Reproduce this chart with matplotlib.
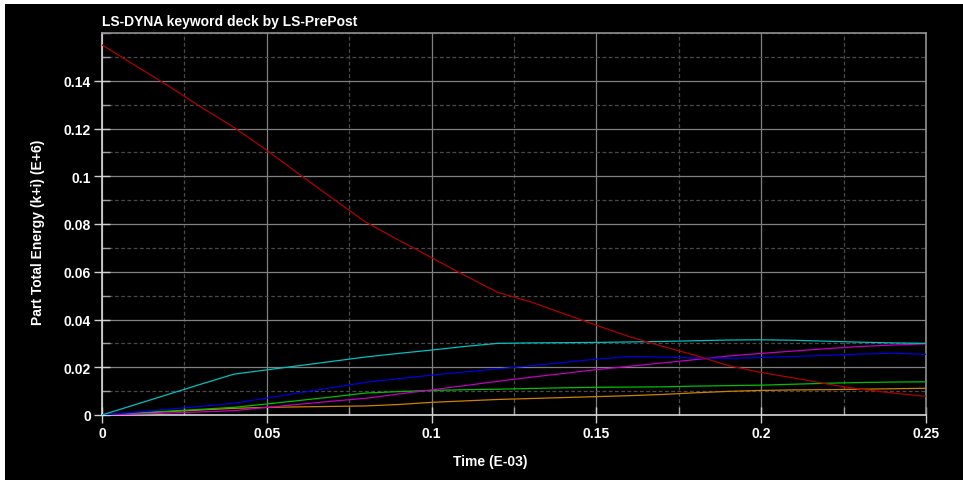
import matplotlib
matplotlib.use("Agg")
import matplotlib.pyplot as plt
from matplotlib.patches import Rectangle
from matplotlib.ticker import MultipleLocator

plt.rcParams['font.family'] = ['Liberation Sans', 'DejaVu Sans']

# Time samples (E-03)
time = [0.00, 0.01, 0.02, 0.03, 0.04, 0.05, 0.06, 0.07, 0.08, 0.09,
        0.10, 0.11, 0.12, 0.13, 0.14, 0.15, 0.16, 0.17, 0.18, 0.19,
        0.20, 0.21, 0.22, 0.23, 0.24, 0.25]

# Part total energy (k+i), E+6
part_red = [0.1550, 0.1465, 0.1380, 0.1290, 0.1205, 0.1109, 0.1007, 0.0907,
            0.0808, 0.0733, 0.0659, 0.0585, 0.0514, 0.0474, 0.0425, 0.0376,
            0.0328, 0.0288, 0.0250, 0.0207, 0.0178, 0.0155, 0.0130, 0.0108,
            0.0092, 0.0078]
part_cyan = [0.0, 0.0043, 0.0086, 0.0129, 0.0171, 0.0189, 0.0207, 0.0225,
             0.0243, 0.0258, 0.0272, 0.0287, 0.0300, 0.0302, 0.0303, 0.0304,
             0.0306, 0.0308, 0.0311, 0.0314, 0.0315, 0.0313, 0.0309, 0.0305,
             0.0302, 0.0300]
part_blue = [0.0, 0.0012, 0.0024, 0.0036, 0.0049, 0.0071, 0.0093, 0.0115,
             0.0137, 0.0152, 0.0167, 0.0180, 0.0193, 0.0206, 0.0220, 0.0234,
             0.0245, 0.0243, 0.0239, 0.0237, 0.0241, 0.0245, 0.0250, 0.0255,
             0.0259, 0.0254]
part_magenta = [0.0, 0.0004, 0.0008, 0.0013, 0.0018, 0.0032, 0.0045, 0.0058,
                0.0070, 0.0088, 0.0105, 0.0123, 0.0141, 0.0158, 0.0174, 0.0190,
                0.0204, 0.0218, 0.0232, 0.0247, 0.0258, 0.0268, 0.0278, 0.0287,
                0.0293, 0.0298]
part_green = [0.0, 0.0008, 0.0016, 0.0024, 0.0032, 0.0046, 0.0061, 0.0076,
              0.0092, 0.0098, 0.0103, 0.0106, 0.0108, 0.0111, 0.0114, 0.0116,
              0.0117, 0.0118, 0.0121, 0.0123, 0.0125, 0.0129, 0.0133, 0.0136,
              0.0138, 0.0139]
part_orange = [0.0, 0.0007, 0.0014, 0.0021, 0.0028, 0.0032, 0.0034, 0.0036,
               0.0038, 0.0044, 0.0053, 0.0059, 0.0065, 0.0069, 0.0073, 0.0077,
               0.0081, 0.0086, 0.0093, 0.0099, 0.0103, 0.0105, 0.0106, 0.0108,
               0.0110, 0.0112]

series = [
    (part_orange, '#d08000'),
    (part_green, '#00c000'),
    (part_magenta, '#c000c0'),
    (part_blue, '#0000e0'),
    (part_cyan, '#00c0c0'),
    (part_red, '#b00000'),
]

W, H = 963, 481
fig = plt.figure(figsize=(W / 100, H / 100), dpi=100, facecolor='white')
# black canvas behind everything
fig.patches.append(Rectangle((5 / W, 0), 1 - 5 / W, 1 - 5 / H,
                             transform=fig.transFigure, facecolor='black',
                             edgecolor='none', zorder=-10))

left, right, top, bottom = 102, 926, 34, 416
ax = fig.add_axes([left / W, (H - bottom) / H, (right - left) / W, (bottom - top) / H])
ax.set_facecolor('black')
ax.set_zorder(1)

for vals, col in series:
    ax.plot(time, vals, color=col, lw=0.9, zorder=3)

ax.set_xlim(0, 0.25)
ax.set_ylim(0, 0.16)
ax.xaxis.set_minor_locator(MultipleLocator(0.025))
ax.yaxis.set_minor_locator(MultipleLocator(0.01))

ax.set_xticks([0, 0.05, 0.1, 0.15, 0.2, 0.25])
ax.set_xticklabels(['0', '0.05', '0.1', '0.15', '0.2', '0.25'])
ax.set_yticks([0, 0.02, 0.04, 0.06, 0.08, 0.1, 0.12, 0.14])
ax.set_yticklabels(['0', '0.02', '0.04', '0.06', '0.08', '0.1', '0.12', '0.14'])

ax.set_axisbelow(True)
ax.grid(True, which='major', color='#808080', lw=0.9, ls='-')
ax.grid(True, which='minor', color='#4a4a4a', lw=0.9, ls=(0, (3, 2)))

ax.tick_params(which='major', direction='inout', length=12, width=1,
               color='#d0d0d0', labelcolor='white', labelsize=10, pad=2)
ax.tick_params(which='minor', direction='in', length=6, width=1, color='#a0a0a0')
for lab in ax.get_xticklabels() + ax.get_yticklabels():
    lab.set_fontweight('bold')

for side in ['left', 'bottom']:
    ax.spines[side].set_color('#d8d8d8')
    ax.spines[side].set_linewidth(1.2)
for side in ['top', 'right']:
    ax.spines[side].set_color('#909090')
    ax.spines[side].set_linewidth(1.2)

fig.text(left / W, 1 - 22 / H, 'LS-DYNA keyword deck by LS-PrePost',
         color='white', fontsize=10, fontweight='bold', ha='left', va='center')
fig.text(490 / W, 1 - 462 / H, 'Time (E-03)', color='white', fontsize=10,
         fontweight='bold', ha='center', va='center')
fig.text(38 / W, 1 - 232 / H, 'Part Total Energy (k+i) (E+6)', color='white',
         fontsize=10, fontweight='bold', ha='center', va='center', rotation=90)

fig.savefig('out.png', dpi=100, facecolor='white')
